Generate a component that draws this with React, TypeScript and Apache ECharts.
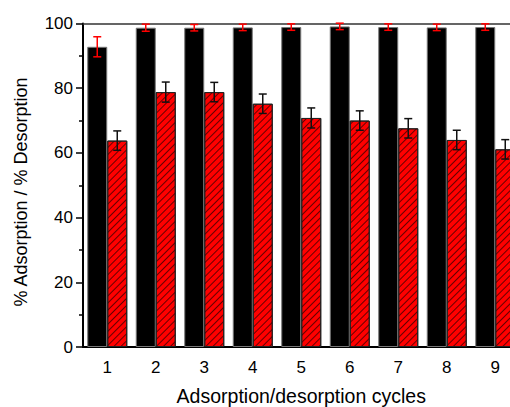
import React, { useEffect, useRef } from "react";
import * as echarts from "echarts";

const categories = ["1", "2", "3", "4", "5", "6", "7", "8", "9"];
const adsorption = [92.8, 98.7, 98.7, 98.8, 98.9, 99.1, 98.9, 98.8, 98.9];
const adsorptionErr = [3.1, 1.1, 1.0, 1.0, 1.0, 1.0, 1.0, 1.0, 1.0];
const desorption = [63.8, 78.8, 78.8, 75.2, 70.8, 70.0, 67.6, 64.0, 61.1];
const desorptionErr = [3.0, 3.1, 3.0, 3.0, 3.1, 3.0, 3.0, 3.0, 3.0];
const yTicks = [0, 20, 40, 60, 80, 100];
const xTitle = "Adsorption/desorption cycles";
const yTitle = "% Adsorption / % Desorption";

const FONT = "Liberation Sans, Arial, sans-serif";

function errorSeries(values: number[], errs: number[], offset: number, color: string) {
  return {
    type: "custom",
    xAxisIndex: 0,
    z: 10,
    silent: true,
    data: values.map((v, i) => [i, v, errs[i]]),
    renderItem: (params: any, api: any) => {
      const i = api.value(0);
      const v = api.value(1);
      const e = api.value(2);
      const top = api.coord([i, v + e]);
      const bot = api.coord([i, v - e]);
      const x = top[0] + offset;
      const cap = 4;
      const style = { stroke: color, lineWidth: 1.5 };
      return {
        type: "group",
        children: [
          { type: "line", shape: { x1: x, y1: top[1], x2: x, y2: bot[1] }, style },
          { type: "line", shape: { x1: x - cap, y1: top[1], x2: x + cap, y2: top[1] }, style },
          { type: "line", shape: { x1: x - cap, y1: bot[1], x2: x + cap, y2: bot[1] }, style },
        ],
      };
    },
  };
}

export default function App() {
  const ref = useRef<HTMLDivElement>(null);
  useEffect(() => {
    if (!ref.current) return;
    const chart = echarts.init(ref.current, undefined, { renderer: "svg" });
    const axisLineStyle = { color: "#000", width: 2 };
    chart.setOption({
      animation: false,
      backgroundColor: "#fff",
      grid: {
        left: 83,
        top: 23.5,
        width: 436.5,
        height: 323.5,
        containLabel: false,
        outerBoundsMode: "none",
      },
      graphic: [
        {
          type: "text",
          x: 21,
          y: 192,
          rotation: Math.PI / 2,
          style: {
            text: yTitle,
            fill: "#000",
            fontSize: 18,
            fontFamily: FONT,
            align: "center",
            verticalAlign: "middle",
          },
        },
      ],
      xAxis: [
        {
          type: "category",
          data: categories,
          position: "bottom",
          axisLine: { lineStyle: axisLineStyle },
          axisTick: { alignWithLabel: true, length: 6, inside: false, lineStyle: { color: "#000", width: 1.5 } },
          axisLabel: { color: "#000", fontSize: 17, fontFamily: FONT, margin: 12 },
          name: xTitle,
          nameLocation: "middle",
          nameGap: 39,
          nameTextStyle: { color: "#000", fontSize: 19.5, fontFamily: FONT },
        },
        {
          type: "category",
          data: categories,
          position: "bottom",
          axisLine: { show: false },
          axisTick: { length: 4, lineStyle: { color: "#000", width: 1.5 } },
          axisLabel: { show: false },
        },
        {
          type: "category",
          data: categories,
          position: "top",
          axisLine: { lineStyle: { color: "#333", width: 1.5 } },
          axisTick: { show: false },
          axisLabel: { show: false },
        },
      ],
      yAxis: {
        type: "value",
        min: 0,
        max: 100,
        interval: 20,
        axisLine: { show: true, lineStyle: axisLineStyle },
        axisTick: { show: true, length: 7, lineStyle: { color: "#000", width: 1.5 } },
        minorTick: { show: true, splitNumber: 2, length: 4, lineStyle: { color: "#000", width: 1.5 } },
        splitLine: { show: false },
        axisLabel: {
          color: "#000",
          fontSize: 17,
          fontFamily: FONT,
          margin: 10,
          formatter: (v: number) => (yTicks.includes(v) ? String(v) : ""),
        },
      },
      series: [
        {
          type: "bar",
          data: adsorption,
          barWidth: 20,
          barGap: "0%",
          itemStyle: { color: "#000", borderColor: "#777", borderWidth: 1 },
        },
        {
          type: "bar",
          data: desorption,
          barWidth: 20,
          barGap: "0%",
          itemStyle: {
            color: "#ff0000",
            borderColor: "#222",
            borderWidth: 1,
            decal: {
              symbol: "rect",
              symbolSize: 1,
              dashArrayX: [1, 0],
              dashArrayY: [1, 4],
              rotation: -Math.PI / 4,
              color: "rgba(0,0,0,0.6)",
            },
          },
        },
        errorSeries(adsorption, adsorptionErr, -10, "#ff0000"),
        errorSeries(desorption, desorptionErr, 10, "#111"),
      ],
    });
    return () => chart.dispose();
  }, []);
  return (
    <div
      ref={ref}
      style={{ position: "fixed", left: 0, top: 0, width: 510, height: 407, background: "#fff" }}
    />
  );
}
